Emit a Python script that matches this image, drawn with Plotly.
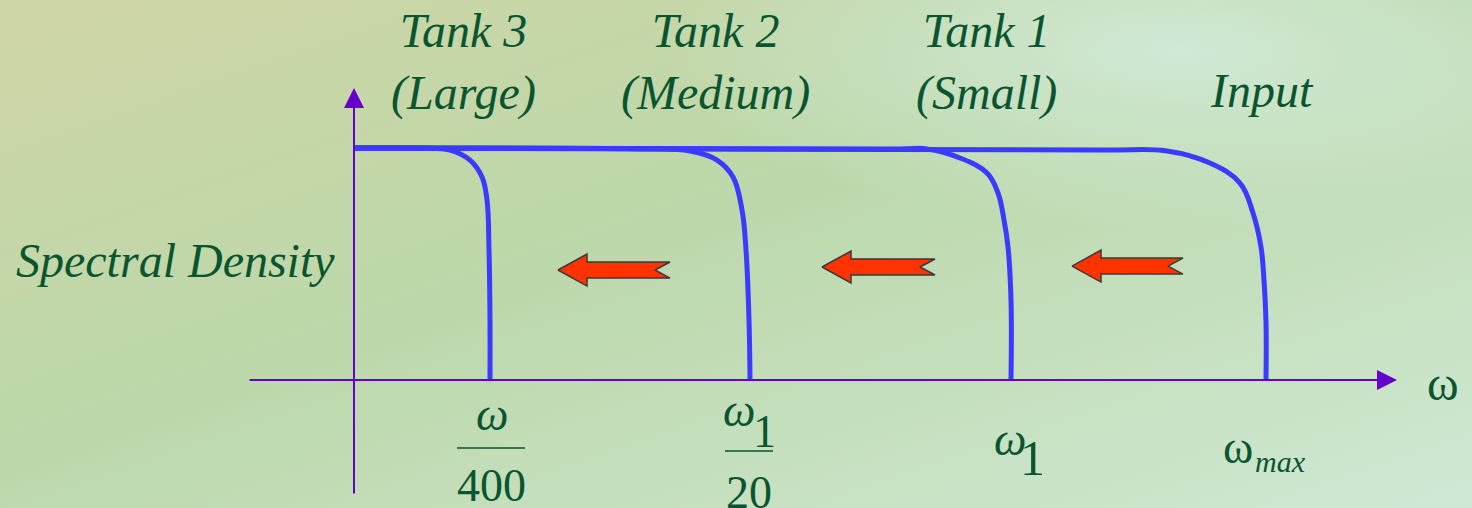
import plotly.graph_objects as go

# schematic units: x = 0 at the density axis, y = 1 is the flat spectral level
TANK_LABELS = ["Tank 3<br>(Large)", "Tank 2<br>(Medium)", "Tank 1<br>(Small)", "Input"]

# filtered spectra (Tank 3, Tank 2, Tank 1, Input)
tank3_x = [0.0, 0.66, 0.96, 1.16, 1.28, 1.33, 1.35, 1.36, 1.36]
tank3_y = [1.0, 1.0, 0.991, 0.948, 0.875, 0.776, 0.560, 0.259, 0.0]
tank2_x = [0.0, 2.86, 3.36, 3.63, 3.79, 3.88, 3.92, 3.95, 3.96]
tank2_y = [1.0, 0.996, 0.987, 0.948, 0.875, 0.733, 0.560, 0.259, 0.0]
tank1_x = [0.0, 5.46, 5.73, 6.06, 6.33, 6.44, 6.50, 6.54, 6.57, 6.57]
tank1_y = [1.0, 0.996, 0.996, 0.957, 0.892, 0.806, 0.690, 0.573, 0.345, 0.0]
input_x = [0.0, 7.46, 8.13, 8.56, 8.86, 8.99, 9.07, 9.10, 9.12, 9.12]
input_y = [1.0, 0.991, 0.987, 0.935, 0.849, 0.720, 0.573, 0.430, 0.250, 0.0]

cutoffs = [1.36, 3.96, 6.56, 9.12]

# red "shift" arrows: head x, tail x, centre y
arrow_head_x = [2.04, 4.68, 7.18]
arrow_tail_x = [3.16, 5.81, 8.29]
arrow_y = [0.474, 0.487, 0.491]

BLUE = "#3b3bff"
PURPLE = "#6600cc"
TEXT = "#0a5530"
SERIF = "Liberation Serif"

BG_SVG = (
    "data:image/svg+xml;utf8,"
    "<svg xmlns='http://www.w3.org/2000/svg' width='1472' height='508'>"
    "<defs><linearGradient id='g' x1='0' y1='0' x2='1' y2='1'>"
    "<stop offset='0' stop-color='%23cfd5a6'/>"
    "<stop offset='0.45' stop-color='%23bcd8aa'/>"
    "<stop offset='1' stop-color='%23cfe8d4'/></linearGradient>"
    "<radialGradient id='r' cx='0.8' cy='0.1' r='0.35'>"
    "<stop offset='0' stop-color='%23d2ead9' stop-opacity='0.9'/>"
    "<stop offset='1' stop-color='%23d2ead9' stop-opacity='0'/></radialGradient></defs>"
    "<rect width='1472' height='508' fill='url(%23g)'/>"
    "<rect width='1472' height='508' fill='url(%23r)'/></svg>"
)

fig = go.Figure()

for xs, ys in [(input_x, input_y), (tank1_x, tank1_y), (tank2_x, tank2_y), (tank3_x, tank3_y)]:
    fig.add_trace(go.Scatter(x=xs, y=ys, mode="lines", line=dict(color=BLUE, width=5, shape="spline", smoothing=1.1),
                             hoverinfo="skip", showlegend=False))

# notched arrows pointing left
for hx, tx, ay in zip(arrow_head_x, arrow_tail_x, arrow_y):
    neck = hx + 0.29
    px = [hx, neck, neck, tx, tx - 0.15, tx, neck, neck, hx]
    py = [ay, ay + 0.069, ay + 0.0345, ay + 0.0345, ay, ay - 0.0345, ay - 0.0345, ay - 0.069, ay]
    fig.add_trace(go.Scatter(x=px, y=py, mode="lines", fill="toself", fillcolor="#ff3300",
                             line=dict(color="#3a3a3a", width=1.5), hoverinfo="skip", showlegend=False))

annotations = []
# axes drawn as arrows
annotations.append(dict(x=10.43, y=0, ax=-1.06, ay=0, xref="x", yref="y", axref="x", ayref="y",
                        text="", showarrow=True, arrowhead=2, arrowsize=2, arrowwidth=2, arrowcolor=PURPLE))
annotations.append(dict(x=0, y=1.259, ax=0, ay=-0.496, xref="x", yref="y", axref="x", ayref="y",
                        text="", showarrow=True, arrowhead=2, arrowsize=2, arrowwidth=2, arrowcolor=PURPLE))

label_x = [1.09, 3.61, 6.32, 9.08]
label_y = [1.371, 1.371, 1.371, 1.246]
for t, lx, ly in zip(TANK_LABELS, label_x, label_y):
    annotations.append(dict(x=lx, y=ly, text=f"<i>{t}</i>", showarrow=False,
                            font=dict(size=48, color=TEXT, family=SERIF)))

annotations.append(dict(x=-1.79, y=0.513, text="<i>Spectral Density</i>", showarrow=False,
                        font=dict(size=48, color=TEXT, family=SERIF)))
annotations.append(dict(x=10.89, y=-0.013, text="ω", showarrow=False,
                        font=dict(size=48, color=TEXT, family=SERIF)))

# tick labels under each cut-off
tick_text = [
    (1.38, -0.147, "<i>ω</i>", 46), (1.37, -0.455, "400", 46),
    (3.85, -0.133, "<i>ω</i>", 46), (4.10, -0.224, "1", 46), (3.95, -0.485, "20", 46),
    (6.56, -0.258, "<i>ω</i>", 46), (6.78, -0.335, "1", 50),
    (8.84, -0.293, "ω", 46), (9.26, -0.35, "<i>max</i>", 30),
]
for tx, ty, t, sz in tick_text:
    annotations.append(dict(x=tx, y=ty, text=t, showarrow=False,
                            font=dict(size=sz, color=TEXT, family=SERIF)))

shapes = [
    dict(type="line", x0=1.03, x1=1.71, y0=-0.293, y1=-0.293, line=dict(color=TEXT, width=1.5)),
    dict(type="line", x0=3.71, x1=4.19, y0=-0.306, y1=-0.306, line=dict(color=TEXT, width=1.5)),
]

fig.update_layout(
    width=1472, height=508, autosize=False,
    margin=dict(l=0, r=0, t=0, b=0),
    paper_bgcolor="#c4dcb0", plot_bgcolor="rgba(0,0,0,0)",
    xaxis=dict(range=[-3.54, 11.18], visible=False, fixedrange=True),
    yaxis=dict(range=[-0.5517, 1.6379], visible=False, fixedrange=True),
    annotations=annotations, shapes=shapes,
    images=[dict(source=BG_SVG, xref="paper", yref="paper", x=0, y=1, sizex=1, sizey=1,
                 sizing="stretch", layer="below", xanchor="left", yanchor="top")],
    showlegend=False,
)

fig.write_html("out.html", config={"displayModeBar": False},
               post_script="document.body.style.margin='0';")
